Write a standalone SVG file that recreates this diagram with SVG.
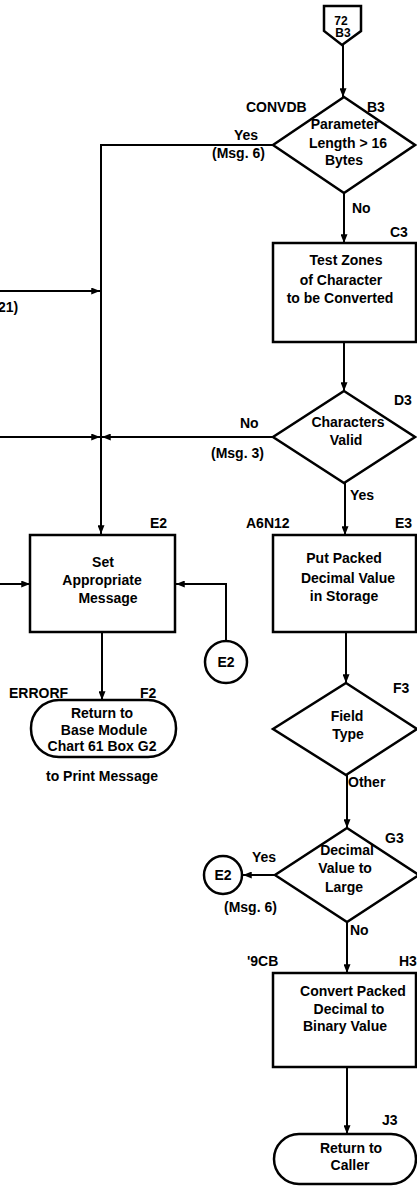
<svg xmlns="http://www.w3.org/2000/svg" width="417" height="1186" viewBox="0 0 417 1186">
<style>
.s{fill:#fff;stroke:#000;stroke-width:2.5}
.c{fill:none;stroke:#000;stroke-width:2}
text{font-family:"Liberation Sans",Arial,sans-serif;font-weight:bold;font-size:14px;fill:#000}
.m{text-anchor:middle}
.sm{font-size:12px}
</style>
<defs>
<marker id="a" viewBox="0 0 10 8" refX="10" refY="4" markerWidth="9" markerHeight="7" markerUnits="userSpaceOnUse" orient="auto">
<path d="M0,0 L10,4 L0,8 Z" fill="#000"/>
</marker>
</defs>
<rect width="417" height="1186" fill="#fff"/>
<g id="connectors">
<path class="c" d="M343,45 V97" marker-end="url(#a)"/>
<path class="c" d="M273,145 H101 V534" marker-end="url(#a)"/>
<path class="c" d="M344,193 V243" marker-end="url(#a)"/>
<path class="c" d="M0,291 H100" marker-end="url(#a)"/>
<path class="c" d="M344,342 V391" marker-end="url(#a)"/>
<path class="c" d="M0,437 H100" marker-end="url(#a)"/>
<path class="c" d="M273,437 H102" marker-end="url(#a)"/>
<path class="c" d="M345,483 V535" marker-end="url(#a)"/>
<path class="c" d="M0,584 H30" marker-end="url(#a)"/>
<path class="c" d="M226,641 V584 H176" marker-end="url(#a)"/>
<path class="c" d="M102,632 V700" marker-end="url(#a)"/>
<path class="c" d="M346,632 V683" marker-end="url(#a)"/>
<path class="c" d="M347,775 V828" marker-end="url(#a)"/>
<path class="c" d="M275,875 H243" marker-end="url(#a)"/>
<path class="c" d="M347,922 V973" marker-end="url(#a)"/>
<path class="c" d="M347,1067 V1134" marker-end="url(#a)"/>
<text x="234" y="140">Yes</text>
<text x="212" y="158">(Msg. 6)</text>
<text x="352" y="213">No</text>
<text x="-2" y="312">21)</text>
<text x="240" y="428">No</text>
<text x="211" y="458">(Msg. 3)</text>
<text x="350" y="500">Yes</text>
<text x="348" y="787">Other</text>
<text x="252" y="862">Yes</text>
<text x="224" y="912">(Msg. 6)</text>
<text x="350" y="935">No</text>
</g>
<g id="off72">
<path class="s" d="M324,6 H361 V31 L342,45 L324,31 Z"/>
<text class="m sm" x="341" y="25">72</text>
<text class="m sm" x="343" y="37">B3</text>
</g>
<g id="B3">
<path class="s" d="M344,97 L415,145 L344,193 L273,145 Z"/>
<text x="246" y="112">CONVDB</text>
<text x="367" y="112">B3</text>
<text class="m" x="345" y="129">Parameter</text>
<text class="m" x="348" y="148">Length &gt;  16</text>
<text class="m" x="344" y="165">Bytes</text>
</g>
<g id="C3">
<rect class="s" x="273" y="243" width="143" height="99"/>
<text x="390" y="237">C3</text>
<text class="m" x="346" y="265">Test Zones</text>
<text class="m" x="341" y="285">of Character</text>
<text class="m" x="340" y="303">to be Converted</text>
</g>
<g id="D3">
<path class="s" d="M344,391 L415,437 L344,483 L273,437 Z"/>
<text x="394" y="405">D3</text>
<text class="m" x="348" y="427">Characters</text>
<text class="m" x="346" y="445">Valid</text>
</g>
<g id="E2">
<rect class="s" x="30" y="535" width="145" height="97"/>
<text x="150" y="528">E2</text>
<text class="m" x="103" y="567">Set</text>
<text class="m" x="102" y="585">Appropriate</text>
<text class="m" x="108" y="603">Message</text>
</g>
<g id="E3">
<rect class="s" x="273" y="535" width="143" height="97"/>
<text x="246" y="528">A6N12</text>
<text x="395" y="528">E3</text>
<text class="m" x="344" y="563">Put Packed</text>
<text class="m" x="348" y="583">Decimal Value</text>
<text class="m" x="344" y="601">in Storage</text>
</g>
<g id="E2conn1">
<circle class="s" cx="226" cy="662" r="21"/>
<text class="m" x="226" y="667">E2</text>
</g>
<g id="F2">
<rect class="s" x="31" y="700" width="145" height="57" rx="28" ry="28"/>
<text x="9" y="698">ERRORF</text>
<text x="140" y="698">F2</text>
<text class="m" x="102" y="718">Return to</text>
<text class="m" x="104" y="735">Base Module</text>
<text class="m" x="102" y="751">Chart 61 Box G2</text>
<text class="m" x="102" y="781">to Print Message</text>
</g>
<g id="F3">
<path class="s" d="M346,683 L417,729 L346,775 L273,729 Z"/>
<text x="393" y="693">F3</text>
<text class="m" x="347" y="721">Field</text>
<text class="m" x="348" y="739">Type</text>
</g>
<g id="G3">
<path class="s" d="M347,828 L419,875 L347,922 L275,875 Z"/>
<text x="385" y="843">G3</text>
<text class="m" x="347" y="855">Decimal</text>
<text class="m" x="345" y="873">Value to</text>
<text class="m" x="344" y="892">Large</text>
</g>
<g id="E2conn2">
<circle class="s" cx="223" cy="875" r="19"/>
<text class="m" x="223" y="880">E2</text>
</g>
<g id="H3">
<rect class="s" x="273" y="973" width="143" height="94"/>
<text x="247" y="966">'9CB</text>
<text x="399" y="966">H3</text>
<text class="m" x="353" y="996">Convert Packed</text>
<text class="m" x="349" y="1014">Decimal to</text>
<text class="m" x="345" y="1031">Binary Value</text>
</g>
<g id="J3">
<rect class="s" x="274" y="1134" width="142" height="50" rx="25" ry="25"/>
<text x="382" y="1125">J3</text>
<text class="m" x="351" y="1153">Return to</text>
<text class="m" x="350" y="1170">Caller</text>
</g>
</svg>
